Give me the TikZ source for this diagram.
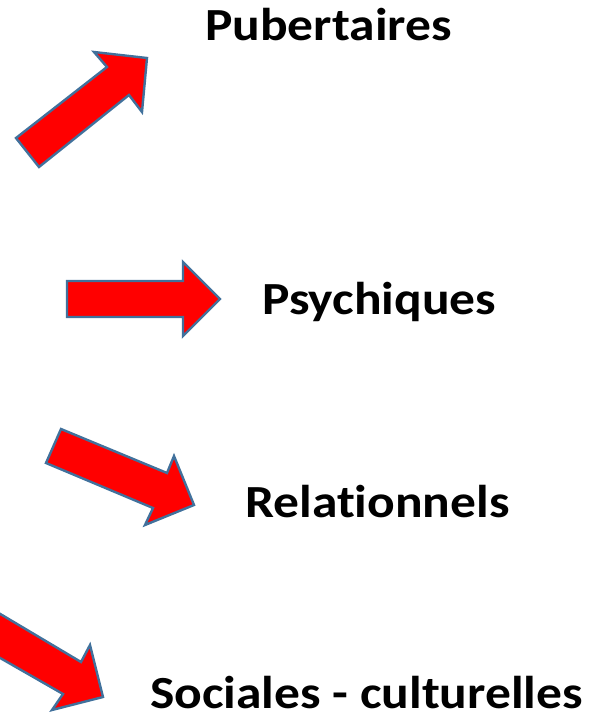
\documentclass[tikz,border=0pt]{standalone}
\usepackage{fontspec}
\newfontfamily\labelfont[FakeStretch=1.12,Ligatures=NoCommon]{Carlito}
\tikzset{
  blockarrow/.style={fill=red,draw=arrowline,line width=2.4pt,line join=miter},
  label/.style={font=\labelfont\bfseries\fontsize{46}{52}\selectfont,inner sep=0pt,anchor=base west}
}
\definecolor{arrowline}{HTML}{41719C}
\begin{document}
\begin{tikzpicture}[x=1pt,y=-1pt]
				\useasboundingbox (0,0) rectangle (605,721);
				\clip (0,0) rectangle (605,721);
				% the four block arrows
				\draw[blockarrow] (16,138) -- (39,167) -- (129,95) -- (142,112) -- (147,58) -- (94,52) -- (107,67) -- cycle;
				\draw[blockarrow] (67,281) -- (183,281) -- (183,262) -- (220,299) -- (183,336) -- (183,317) -- (67,317) -- cycle;
				\draw[blockarrow] (61,429) -- (46,463) -- (153,508) -- (145,525) -- (194,505) -- (174,456) -- (167,473) -- cycle;
				\draw[blockarrow] (-40,590) -- (81,662) -- (90,645) -- (103,697) -- (52,710) -- (63,694) -- (-40,635) -- cycle;
				% the labels
				\node[label] (pub) at (205,40) {Pubertaires};
				\node[label] (psy) at (262,314) {Psychiques};
				\node[label] (rel) at (245,517) {Relationnels};
				\node[label] (soc) at (150,708) {Sociales - culturelles};
			\end{tikzpicture}
\end{document}
